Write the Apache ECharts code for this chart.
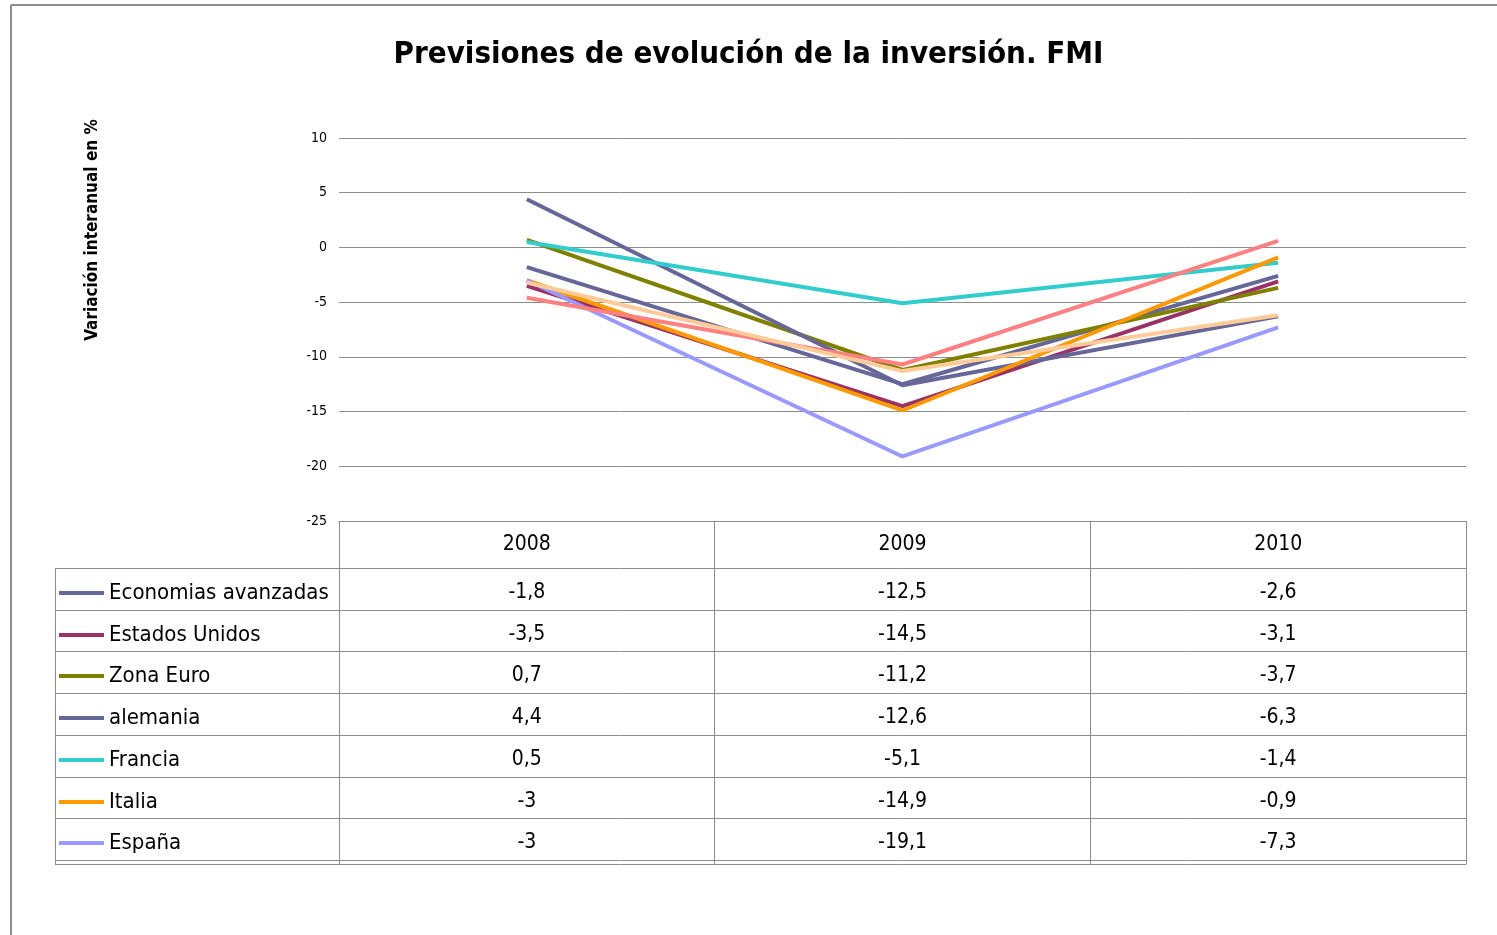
<!DOCTYPE html>
<html>
<head>
<meta charset="utf-8">
<script src="https://cdn.jsdelivr.net/npm/echarts@6/dist/echarts.min.js"></script>
<style>html,body{margin:0;padding:0;background:#fff;}#c{width:1497px;height:935px;}</style>
</head>
<body>
<div id="c"></div>
<script>
// ---- data ----
const categories = ['2008', '2009', '2010'];
const seriesNames = ['Economias avanzadas', 'Estados Unidos', 'Zona Euro', 'alemania', 'Francia', 'Italia', 'España'];
const economiasAvanzadas = [-1.8, -12.5, -2.6];
const estadosUnidos = [-3.5, -14.5, -3.1];
const zonaEuro = [0.7, -11.2, -3.7];
const alemania = [4.4, -12.6, -6.3];
const francia = [0.5, -5.1, -1.4];
const italia = [-3, -14.9, -0.9];
const espana = [-3, -19.1, -7.3];
// two extra series drawn in the chart whose table rows are not shown
const extraSerie8 = [-4.6, -10.7, 0.6];
const extraSerie9 = [-3.2, -11.3, -6.2];
const yTicks = { min: -25, max: 10, interval: 5 };

const tableRows = [economiasAvanzadas, estadosUnidos, zonaEuro, alemania, francia, italia, espana];
const colors = ['#666699', '#993366', '#808000', '#666699', '#33CCCC', '#FF9900', '#9999FF', '#FF8080', '#FFCC99'];
const allData = tableRows.concat([extraSerie8, extraSerie9]);
const allNames = seriesNames.concat(['Serie 8', 'Serie 9']);

const FONT = "'Liberation Sans Narrow', 'DejaVu Sans Condensed', 'Liberation Sans', sans-serif";
const GRID = { left: 339, right: 31, top: 138, bottom: 414 };
const gridBottomY = 935 - GRID.bottom; // 521
const headerH = 47;
const rowH = 41.7;
const lastExtra = 4;
const lineColor = '#8c8c8c';
const fmt = v => String(v).replace('.', ',');
const rowOff = i => Math.round(headerH + rowH * i);

const baseAxis = {
  type: 'category', data: categories, gridIndex: 0, position: 'bottom', boundaryGap: true,
  splitLine: { show: false }
};
const xAxes = [];
xAxes.push(Object.assign({}, baseAxis, {
  axisLine: { show: true, onZero: false, lineStyle: { color: lineColor, width: 1 } },
  axisTick: { show: true, interval: 0, length: headerH, lineStyle: { color: lineColor } },
  axisLabel: { interval: 0, margin: 24, verticalAlign: 'middle', fontSize: 21, color: '#000', fontFamily: FONT }
}));
tableRows.forEach((row, i) => {
  const off = rowOff(i);
  const next = i === tableRows.length - 1 ? rowOff(i + 1) + lastExtra : rowOff(i + 1);
  xAxes.push(Object.assign({}, baseAxis, {
    offset: off,
    axisLine: { show: true, onZero: false, lineStyle: { color: lineColor, width: 1 } },
    axisTick: { show: true, interval: 0, length: next - off, lineStyle: { color: lineColor } },
    axisLabel: { interval: 0, margin: 25, verticalAlign: 'middle', fontSize: 21, color: '#000', fontFamily: FONT,
      formatter: (v, idx) => fmt(row[idx]) }
  }));
});
[rowOff(tableRows.length), rowOff(tableRows.length) + lastExtra].forEach(off => {
  xAxes.push(Object.assign({}, baseAxis, {
    offset: off,
    axisLine: { show: true, onZero: false, lineStyle: { color: lineColor, width: 1 } },
    axisTick: { show: false }, axisLabel: { show: false }
  }));
});

const legends = seriesNames.map((n, i) => ({
  data: [n], orient: 'horizontal', left: 59, top: gridBottomY + rowOff(i) + 12,
  padding: 0, icon: 'rect', itemWidth: 45, itemHeight: 4, selectedMode: false,
  textStyle: { fontSize: 22, color: '#000', fontFamily: FONT, lineHeight: 26 }
}));

const graphics = [];
// outer frame (top & left)
graphics.push({ type: 'line', shape: { x1: 11, y1: 5, x2: 1497, y2: 5 }, style: { stroke: '#8c8c8c', lineWidth: 2 } });
graphics.push({ type: 'line', shape: { x1: 11, y1: 5, x2: 11, y2: 935 }, style: { stroke: '#8c8c8c', lineWidth: 2 } });
// legend column of the data table
for (let i = 0; i <= tableRows.length; i++) {
  const y = gridBottomY + rowOff(i) + 0.5;
  graphics.push({ type: 'line', shape: { x1: 55, y1: y, x2: GRID.left, y2: y }, style: { stroke: lineColor, lineWidth: 1 } });
}
const lastY = gridBottomY + rowOff(tableRows.length) + lastExtra + 0.5;
graphics.push({ type: 'line', shape: { x1: 55, y1: lastY, x2: GRID.left, y2: lastY }, style: { stroke: lineColor, lineWidth: 1 } });
graphics.push({ type: 'line', shape: { x1: 55.5, y1: gridBottomY + headerH, x2: 55.5, y2: lastY }, style: { stroke: lineColor, lineWidth: 1 } });
// y axis title
graphics.push({
  type: 'text', x: 93, y: 230, rotation: Math.PI / 2,
  style: { text: 'Variación interanual en %', font: "bold 17px " + FONT, fill: '#000', textAlign: 'center', textVerticalAlign: 'middle' }
});

const option = {
  backgroundColor: '#fff',
  animation: false,
  title: {
    text: 'Previsiones de evolución de la inversión. FMI', left: 'center', top: 34,
    textStyle: { fontSize: 31, fontWeight: 'bold', color: '#000', fontFamily: FONT }
  },
  grid: GRID,
  legend: legends,
  xAxis: xAxes,
  yAxis: {
    type: 'value', min: yTicks.min, max: yTicks.max, interval: yTicks.interval,
    axisLine: { show: false }, axisTick: { show: false },
    axisLabel: { fontSize: 14, color: '#000', margin: 12, fontFamily: FONT },
    splitLine: { show: true, lineStyle: { color: lineColor, width: 1 } }
  },
  series: allData.map((d, i) => ({
    name: allNames[i], type: 'line', data: d, xAxisIndex: 0,
    symbol: 'none', lineStyle: { width: 4, color: colors[i] }, itemStyle: { color: colors[i] },
    emphasis: { disabled: true }
  })),
  graphic: graphics
};
const chart = echarts.init(document.getElementById('c'));
chart.setOption(option);
</script>
</body>
</html>
